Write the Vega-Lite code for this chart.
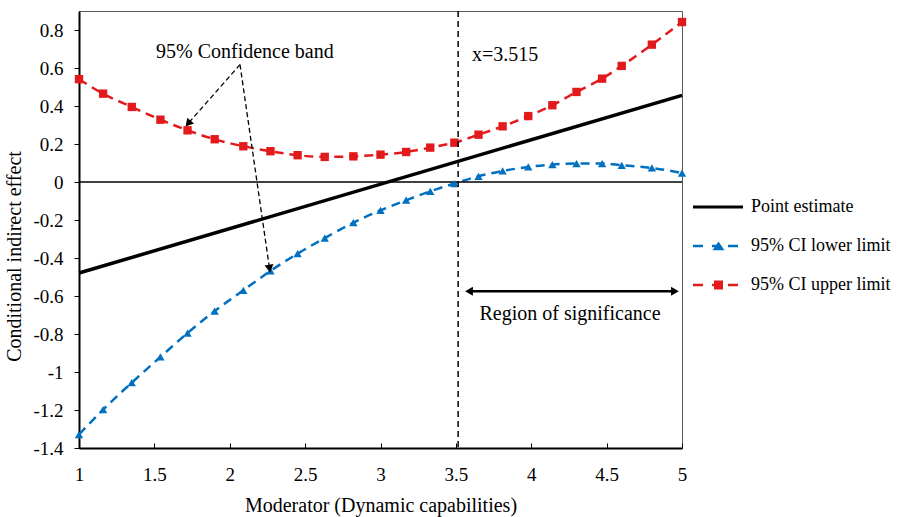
{
  "$schema": "https://vega.github.io/schema/vega-lite/v6.json",
  "width": 603,
  "height": 437,
  "autosize": {"type": "none"},
  "padding": {"left": 79, "top": 11, "right": 215, "bottom": 69},
  "background": "white",
  "config": {
    "font": "Liberation Serif",
    "view": {"stroke": "#595959", "strokeWidth": 1},
    "axis": {
      "grid": false,
      "labelFont": "Liberation Serif",
      "titleFont": "Liberation Serif",
      "labelFontSize": 19,
      "titleFontSize": 20,
      "labelColor": "black",
      "titleColor": "black",
      "titleFontWeight": "normal",
      "domainColor": "black",
      "domainWidth": 2,
      "tickColor": "black",
      "tickWidth": 1,
      "labelFlush": false,
      "labelOverlap": false
    }
  },
  "datasets": {
    "ci": [
      {"series": "95% CI lower limit", "x": 1.0, "y": -1.329},
      {"series": "95% CI lower limit", "x": 1.16, "y": -1.198},
      {"series": "95% CI lower limit", "x": 1.35, "y": -1.056},
      {"series": "95% CI lower limit", "x": 1.54, "y": -0.921},
      {"series": "95% CI lower limit", "x": 1.72, "y": -0.795},
      {"series": "95% CI lower limit", "x": 1.9, "y": -0.679},
      {"series": "95% CI lower limit", "x": 2.09, "y": -0.57},
      {"series": "95% CI lower limit", "x": 2.27, "y": -0.468},
      {"series": "95% CI lower limit", "x": 2.45, "y": -0.377},
      {"series": "95% CI lower limit", "x": 2.63, "y": -0.295},
      {"series": "95% CI lower limit", "x": 2.82, "y": -0.214},
      {"series": "95% CI lower limit", "x": 3.0, "y": -0.149},
      {"series": "95% CI lower limit", "x": 3.17, "y": -0.096},
      {"series": "95% CI lower limit", "x": 3.33, "y": -0.049},
      {"series": "95% CI lower limit", "x": 3.49, "y": -0.008},
      {"series": "95% CI lower limit", "x": 3.65, "y": 0.03},
      {"series": "95% CI lower limit", "x": 3.81, "y": 0.058},
      {"series": "95% CI lower limit", "x": 3.98, "y": 0.079},
      {"series": "95% CI lower limit", "x": 4.14, "y": 0.092},
      {"series": "95% CI lower limit", "x": 4.3, "y": 0.097},
      {"series": "95% CI lower limit", "x": 4.47, "y": 0.097},
      {"series": "95% CI lower limit", "x": 4.6, "y": 0.088},
      {"series": "95% CI lower limit", "x": 4.8, "y": 0.074},
      {"series": "95% CI lower limit", "x": 5.0, "y": 0.047},
      {"series": "95% CI upper limit", "x": 1.0, "y": 0.541},
      {"series": "95% CI upper limit", "x": 1.16, "y": 0.465},
      {"series": "95% CI upper limit", "x": 1.35, "y": 0.395},
      {"series": "95% CI upper limit", "x": 1.54, "y": 0.328},
      {"series": "95% CI upper limit", "x": 1.72, "y": 0.272},
      {"series": "95% CI upper limit", "x": 1.9, "y": 0.225},
      {"series": "95% CI upper limit", "x": 2.09, "y": 0.188},
      {"series": "95% CI upper limit", "x": 2.27, "y": 0.162},
      {"series": "95% CI upper limit", "x": 2.45, "y": 0.141},
      {"series": "95% CI upper limit", "x": 2.63, "y": 0.132},
      {"series": "95% CI upper limit", "x": 2.82, "y": 0.135},
      {"series": "95% CI upper limit", "x": 3.0, "y": 0.144},
      {"series": "95% CI upper limit", "x": 3.17, "y": 0.158},
      {"series": "95% CI upper limit", "x": 3.33, "y": 0.181},
      {"series": "95% CI upper limit", "x": 3.49, "y": 0.207},
      {"series": "95% CI upper limit", "x": 3.65, "y": 0.249},
      {"series": "95% CI upper limit", "x": 3.81, "y": 0.293},
      {"series": "95% CI upper limit", "x": 3.98, "y": 0.347},
      {"series": "95% CI upper limit", "x": 4.14, "y": 0.404},
      {"series": "95% CI upper limit", "x": 4.3, "y": 0.474},
      {"series": "95% CI upper limit", "x": 4.47, "y": 0.544},
      {"series": "95% CI upper limit", "x": 4.6, "y": 0.611},
      {"series": "95% CI upper limit", "x": 4.8, "y": 0.723},
      {"series": "95% CI upper limit", "x": 5.0, "y": 0.842}
    ],
    "pe": [
      {"series": "Point estimate", "x": 1.0, "y": -0.479},
      {"series": "Point estimate", "x": 5.0, "y": 0.456}
    ],
    "bandArrows": [
      {"x": 2.068, "y": 0.618, "x2": 1.724, "y2": 0.308},
      {"x": 2.068, "y": 0.618, "x2": 2.264, "y2": -0.456}
    ],
    "regionArrow": [
      {"x": 3.587, "x2": 4.953, "y": -0.575}
    ],
    "heads": [
      {"x": 1.724, "y": 0.308, "dir": 220},
      {"x": 2.264, "y": -0.456, "dir": 171},
      {"x": 3.587, "y": -0.575, "dir": 270},
      {"x": 4.953, "y": -0.575, "dir": 90}
    ],
    "notes": [
      {"x": 2.1, "y": 0.685, "text": "95% Confidence band"},
      {"x": 3.826, "y": 0.667, "text": "x=3.515"},
      {"x": 4.257, "y": -0.695, "text": "Region of significance"}
    ],
    "keys": [
      {"series": "Point estimate"},
      {"series": "95% CI lower limit"},
      {"series": "95% CI upper limit"}
    ]
  },
  "layer": [
    {
      "data": {"name": "ci"},
      "transform": [{"filter": "datum.series === '95% CI lower limit'"}],
      "mark": {"type": "line", "interpolate": "monotone", "stroke": "#0070C0", "strokeWidth": 2.5, "strokeDash": [9, 6]},
      "encoding": {
        "x": {
          "field": "x", "type": "quantitative",
          "scale": {"domain": [1, 5], "nice": false, "zero": false},
          "axis": {
            "title": "Moderator (Dynamic capabilities)",
            "values": [1, 1.5, 2, 2.5, 3, 3.5, 4, 4.5, 5],
            "tickCount": 20,
            "labelExpr": "'' + datum.value",
            "labelOverlap": false,
            "tickSize": -5,
            "labelPadding": 22,
            "titlePadding": 11
          }
        },
        "y": {
          "field": "y", "type": "quantitative",
          "scale": {"domain": [-1.4, 0.9], "nice": false, "zero": false},
          "axis": {
            "title": "Conditional indirect effect",
            "values": [-1.4, -1.2, -1, -0.8, -0.6, -0.4, -0.2, 0, 0.2, 0.4, 0.6, 0.8],
            "tickCount": 20,
            "labelExpr": "'' + datum.value",
            "labelOverlap": false,
            "tickSize": 5,
            "labelPadding": 11,
            "titlePadding": 8,
            "titleY": 245
          }
        }
      }
    },
    {
      "data": {"values": [{}]},
      "mark": {"type": "rule", "color": "black", "strokeWidth": 1.5},
      "encoding": {
        "y": {"datum": 0, "type": "quantitative"}
      }
    },
    {
      "data": {"name": "ci"},
      "transform": [{"filter": "datum.series === '95% CI lower limit'"}],
      "mark": {"type": "point", "shape": "triangle-up", "filled": true, "color": "#0070C0", "opacity": 1, "size": 70},
      "encoding": {
        "x": {"field": "x", "type": "quantitative"},
        "y": {"field": "y", "type": "quantitative"}
      }
    },
    {
      "data": {"name": "ci"},
      "transform": [{"filter": "datum.series === '95% CI upper limit'"}],
      "mark": {"type": "line", "interpolate": "monotone", "stroke": "#E31A1C", "strokeWidth": 2.5, "strokeDash": [9, 6]},
      "encoding": {
        "x": {"field": "x", "type": "quantitative"},
        "y": {"field": "y", "type": "quantitative"}
      }
    },
    {
      "data": {"name": "ci"},
      "transform": [{"filter": "datum.series === '95% CI upper limit'"}],
      "mark": {"type": "point", "shape": "square", "filled": true, "color": "#E31A1C", "opacity": 1, "size": 70},
      "encoding": {
        "x": {"field": "x", "type": "quantitative"},
        "y": {"field": "y", "type": "quantitative"}
      }
    },
    {
      "data": {"name": "pe"},
      "mark": {"type": "line", "stroke": "black", "strokeWidth": 3.5},
      "encoding": {
        "x": {"field": "x", "type": "quantitative"},
        "y": {"field": "y", "type": "quantitative"}
      }
    },
    {
      "data": {"values": [{}]},
      "mark": {"type": "rule", "color": "black", "strokeWidth": 1.5, "strokeDash": [6, 4]},
      "encoding": {
        "x": {"datum": 3.515, "type": "quantitative"}
      }
    },
    {
      "data": {"name": "bandArrows"},
      "mark": {"type": "rule", "color": "black", "strokeWidth": 1.3, "strokeDash": [5, 3]},
      "encoding": {
        "x": {"field": "x", "type": "quantitative"},
        "y": {"field": "y", "type": "quantitative"},
        "x2": {"field": "x2"},
        "y2": {"field": "y2"}
      }
    },
    {
      "data": {"name": "regionArrow"},
      "mark": {"type": "rule", "color": "black", "strokeWidth": 2.5},
      "encoding": {
        "x": {"field": "x", "type": "quantitative"},
        "y": {"field": "y", "type": "quantitative"},
        "x2": {"field": "x2"}
      }
    },
    {
      "data": {"name": "heads"},
      "mark": {"type": "point", "shape": "triangle-up", "filled": true, "color": "black", "opacity": 1, "size": 80},
      "encoding": {
        "x": {"field": "x", "type": "quantitative"},
        "y": {"field": "y", "type": "quantitative"},
        "angle": {"field": "dir", "type": "quantitative", "scale": null}
      }
    },
    {
      "data": {"name": "notes"},
      "mark": {"type": "text", "font": "Liberation Serif", "fontSize": 20, "color": "black", "align": "center", "baseline": "middle"},
      "encoding": {
        "x": {"field": "x", "type": "quantitative"},
        "y": {"field": "y", "type": "quantitative"},
        "text": {"field": "text"}
      }
    },
    {
      "data": {"name": "keys"},
      "mark": {"type": "point", "filled": true, "opacity": 0},
      "encoding": {
        "shape": {
          "field": "series", "type": "nominal",
          "scale": {
            "domain": ["Point estimate", "95% CI lower limit", "95% CI upper limit"],
            "range": [
              "M-2.5,-0.15H2.5V0.15H-2.5Z",
              "M-2.5,-0.125H-1.5V0.125H-2.5Z M-0.6,-0.125H-0.2V0.125H-0.6Z M-0.55,0.43L0.05,-0.45L0.65,0.43Z M1,-0.125H2V0.125H1Z",
              "M-2.5,-0.125H-1.5V0.125H-2.5Z M-0.6,-0.125H-0.3V0.125H-0.6Z M-0.4,-0.45H0.5V0.45H-0.4Z M1,-0.125H2V0.125H1Z"
            ]
          },
          "legend": {
            "orient": "none", "legendX": 629, "legendY": 186, "title": null,
            "symbolSize": 400, "symbolStrokeWidth": 0, "symbolOpacity": 1,
            "labelFont": "Liberation Serif", "labelFontSize": 18, "labelColor": "black",
            "labelOffset": 23, "rowPadding": 20, "padding": 0
          }
        },
        "color": {
          "field": "series", "type": "nominal",
          "scale": {
            "domain": ["Point estimate", "95% CI lower limit", "95% CI upper limit"],
            "range": ["black", "#0070C0", "#E31A1C"]
          },
          "legend": {
            "orient": "none", "legendX": 629, "legendY": 186, "title": null,
            "symbolSize": 400, "symbolStrokeWidth": 0, "symbolOpacity": 1,
            "labelFont": "Liberation Serif", "labelFontSize": 18, "labelColor": "black",
            "labelOffset": 23, "rowPadding": 20, "padding": 0
          }
        }
      }
    }
  ]
}
